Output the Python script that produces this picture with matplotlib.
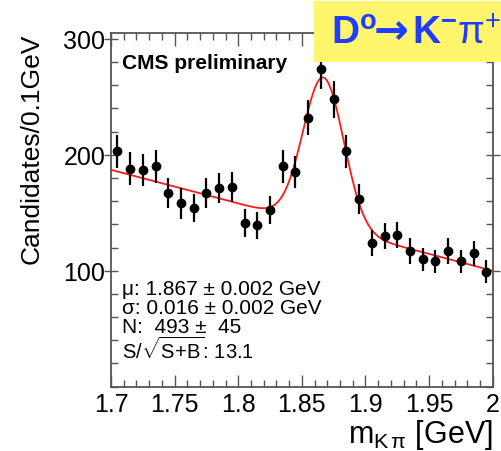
import numpy as np
import matplotlib
matplotlib.use("Agg")
import matplotlib.pyplot as plt
from matplotlib.ticker import MultipleLocator
from matplotlib.patches import Rectangle

plt.rcParams['font.family'] = ['Liberation Sans', 'DejaVu Sans']
plt.rcParams['mathtext.fontset'] = 'custom'
plt.rcParams['mathtext.rm'] = 'Liberation Sans'
plt.rcParams['mathtext.it'] = 'Liberation Sans:italic'
plt.rcParams['mathtext.bf'] = 'Liberation Sans:bold'

# bin centres (GeV) and candidate counts
mass = [1.705, 1.715, 1.725, 1.735, 1.745, 1.755, 1.765, 1.775, 1.785, 1.795,
        1.805, 1.815, 1.825, 1.835, 1.845, 1.855, 1.865, 1.875, 1.885, 1.895,
        1.905, 1.915, 1.925, 1.935, 1.945, 1.955, 1.965, 1.975, 1.985, 1.995]
counts = [203, 188, 187, 190, 167, 158, 154, 167, 171, 172,
          141, 139, 152, 190, 185, 232, 274, 248, 203, 162,
          124, 130, 131, 117, 110, 108, 117, 108, 115, 99]
errors = [14, 14, 14, 14, 13, 13, 12, 13, 13, 13,
          12, 12, 12, 14, 14, 15, 17, 16, 14, 13,
          11, 11, 11, 11, 10, 10, 11, 10, 11, 10]

# fit: gaussian + linear background
fit_mu = 1.867
fit_sigma = 0.016
fit_amp = 128.0
bkg_at_start = 187.0
bkg_slope = -290.0

xs = np.linspace(1.7, 2.0, 400)
fit = bkg_at_start + bkg_slope * (xs - 1.7) + fit_amp * np.exp(-0.5 * ((xs - fit_mu) / fit_sigma) ** 2)

fig = plt.figure(figsize=(5.01, 4.52), dpi=100)
ax = fig.add_axes([0.2216, 0.1423, 0.7618, 0.7825])

ax.plot(xs, fit, color='#ff1a1a', lw=1.3, zorder=2)
ax.errorbar(mass, counts, yerr=errors, fmt='o', color='black', ms=6,
            elinewidth=1.6, capsize=0, zorder=3)

ax.set_xlim(1.7, 2.0)
ax.set_ylim(0, 305)
ax.xaxis.set_minor_locator(MultipleLocator(0.01))
ax.yaxis.set_minor_locator(MultipleLocator(20))
ax.set_xticks([1.7, 1.75, 1.8, 1.85, 1.9, 1.95, 2.0])
ax.set_xticklabels(['1.7', '1.75', '1.8', '1.85', '1.9', '1.95', '2'])
ax.set_yticks([100, 200, 300])
ax.set_yticklabels(['100', '200', '300'])

ax.tick_params(which='both', direction='in', top=True, right=True, labelsize=18, color='#555555')
ax.tick_params(which='major', length=9, width=1)
ax.tick_params(which='minor', length=5, width=1)
ax.tick_params(axis='y', which='major', direction='inout', length=10, pad=-1)
for s in ax.spines.values():
    s.set_color('#555555')
    s.set_linewidth(1.3)

ax.set_ylabel('Candidates/0.1GeV', fontsize=19, loc='top', labelpad=14)
ax.set_xlabel('m$_{\\mathrm{K}\\,\\mathrm{\u03c0}}$ [GeV]', fontsize=22, loc='right', labelpad=1)

ax.text(0.03, 0.917, 'CMS preliminary', transform=ax.transAxes, fontsize=15,
        fontweight='bold', va='center', ha='left')

stats = ['\u03bc: 1.867 \u00b1 0.002 GeV',
         '\u03c3: 0.016 \u00b1 0.002 GeV',
         'N:  493 \u00b1  45']
for i, line in enumerate(stats):
    ax.text(0.03, 0.278 - i * 0.0545, line, transform=ax.transAxes, fontsize=15,
            va='center', ha='left')
ax.text(0.03, 0.278 - 3 * 0.0545 - 0.006, r'S/$\sqrt{\mathrm{S\!+\!B}}$: 13.1',
        transform=ax.transAxes, fontsize=14.5, va='center', ha='left')

# yellow title box
fig.patches.append(Rectangle((314 / 501, 1 - 63 / 452), 187 / 501, 61 / 452,
                             transform=fig.transFigure, facecolor='#fff66e',
                             edgecolor='none', zorder=5))
title_color = '#1f3cff'
fig.text(331 / 501, 1 - 44 / 452, '$\\mathbf{D^{o}}$', fontsize=28,
         color=title_color, ha='left', va='baseline', zorder=6)
fig.text(374 / 501, 1 - 44 / 452, '\u2192', fontsize=30, fontweight='bold',
         family='DejaVu Sans', color=title_color, ha='left', va='baseline', zorder=6)
fig.text(412 / 501, 1 - 44 / 452, '$\\mathbf{K^{-}}\\mathrm{\u03c0}^{+}$', fontsize=28,
         color=title_color, ha='left', va='baseline', zorder=6)

fig.savefig('out.png', dpi=100)
